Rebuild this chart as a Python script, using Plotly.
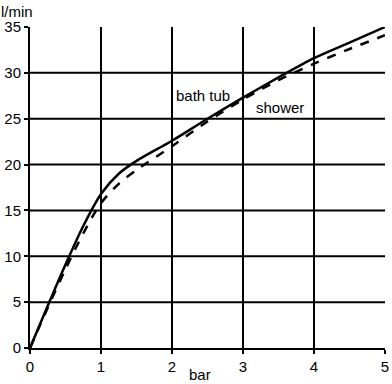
import plotly.graph_objects as go

pressure_bar = [0, 0.25, 0.5, 0.75, 1, 1.25, 1.5, 2, 2.5, 3, 3.5, 4, 4.5, 5]
bath_tub = [0, 4.6, 9.1, 13.3, 16.8, 19.0, 20.4, 22.6, 25.0, 27.3, 29.5, 31.6, 33.3, 35.0]
shower = [0, 4.4, 8.6, 12.5, 15.8, 17.9, 19.4, 22.0, 24.7, 27.1, 29.2, 31.0, 32.6, 34.1]

x_ticks = [0, 1, 2, 3, 4, 5]
y_ticks = [0, 5, 10, 15, 20, 25, 30, 35]
x_grid = [1, 2, 3, 4]
y_grid = [5, 10, 15, 20, 25, 30]

FONT = "Liberation Sans, Arial, sans-serif"

fig = go.Figure()
fig.add_trace(go.Scatter(x=pressure_bar, y=bath_tub, mode="lines", name="bath tub",
                         line=dict(color="black", width=2.5, shape="spline", smoothing=0.8)))
fig.add_trace(go.Scatter(x=pressure_bar, y=shower, mode="lines", name="shower",
                         line=dict(color="black", width=2.5, dash="dash", shape="spline", smoothing=0.8)))

shapes = []
for gx in x_grid:
    shapes.append(dict(type="line", xref="x", yref="y", x0=gx, x1=gx, y0=0, y1=35,
                       line=dict(color="black", width=2), layer="below"))
for gy in y_grid:
    shapes.append(dict(type="line", xref="x", yref="y", x0=0, x1=5, y0=gy, y1=gy,
                       line=dict(color="black", width=2), layer="below"))

fig.update_layout(
    width=392, height=384,
    margin=dict(l=30, r=7, t=27, b=36),
    paper_bgcolor="white", plot_bgcolor="white",
    showlegend=False,
    shapes=shapes,
    font=dict(family=FONT, size=15, color="black"),
    xaxis=dict(range=[0, 5], tickvals=x_ticks, showgrid=False, zeroline=False, automargin=False,
               showline=True, linecolor="black", linewidth=2,
               ticks="outside", ticklen=4, tickwidth=2, tickcolor="black",
               tickfont=dict(size=15, family=FONT)),
    yaxis=dict(range=[0, 35], tickvals=y_ticks, showgrid=False, zeroline=False, automargin=False,
               showline=True, linecolor="black", linewidth=2,
               ticks="outside", ticklen=4, tickwidth=2, tickcolor="black",
               tickfont=dict(size=15, family=FONT)),
    annotations=[
        dict(text="bath tub", x=2.44, y=27.5, xref="x", yref="y", showarrow=False,
             font=dict(size=15, family=FONT)),
        dict(text="shower", x=3.52, y=26.2, xref="x", yref="y", showarrow=False,
             font=dict(size=15, family=FONT)),
        dict(text="l/min", x=0, y=1, xref="paper", yref="paper", xanchor="left", yanchor="bottom",
             xshift=-31, yshift=5, showarrow=False, font=dict(size=15, family=FONT)),
        dict(text="bar", x=0.48, y=0, xref="paper", yref="paper", xanchor="center", yanchor="bottom",
             yshift=-37, showarrow=False, font=dict(size=15, family=FONT)),
    ],
)

fig.write_html(
    "out.html",
    config={"displayModeBar": False},
    post_script="document.body.style.margin='0';document.body.style.overflow='hidden';",
)
